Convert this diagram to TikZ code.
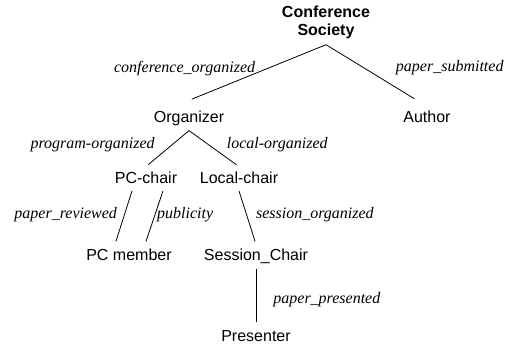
\documentclass[tikz,border=0pt]{standalone}
\usepackage{fontspec}
\setmainfont{Liberation Serif}
\setsansfont{Liberation Sans}

\begin{document}
\begin{tikzpicture}[
        x = 1pt, y = -1pt, line width = 0.8pt, shorten >= 3pt,
        every node/.style = {font = \sffamily\fontsize{16}{18.7}\selectfont},
        role/.style = {anchor = base, inner ysep = 4pt, text height = 12pt, text depth = 3.5pt},
        top role/.style = {role, text height = 18pt},
        rel/.style = {font = \rmfamily\itshape\fontsize{16}{18.7}\selectfont, inner sep = 0pt},
        rel left/.style = {rel, anchor = base east},
        rel right/.style = {rel, anchor = base west}
    ]
    \useasboundingbox (0,0) rectangle (507,349);

      \node[font = \sffamily\bfseries\fontsize{16}{18.7}\selectfont, align = center, inner sep = 5pt] (society) at (326,22.5) {Conference\\Society};
      \node[top role] (organizer) at (189,122.7) {Organizer};
      \node[top role] (author) at (427,122.7) {Author};
      \node[role] (pcchair) at (146,183) {PC-chair};
      \node[role] (localchair) at (239,183) {Local-chair};
      \node[role] (pcmember) at (129,260.7) {PC member};
      \node[role] (sessionchair) at (256,260.7) {Session\_Chair};
      \node[role] (presenter) at (256,341.7) {Presenter};

      \path[draw]
        (society.south) edge node[rel left, pos = 0.5, xshift = -2pt] {conference\_organized} (organizer.north)
        (society.south) edge node[rel right, pos = 0.49, xshift = 25pt] {paper\_submitted} ([xshift = -10pt]author.north)
        (organizer.south) edge node[rel left, pos = 0.51, xshift = -12pt] {program-organized} (pcchair.north)
        (organizer.south) edge node[rel right, pos = 0.51, xshift = 12pt] {local-organized} (localchair.north)
        ([xshift = -14pt]pcchair.south) edge node[rel left, pos = 0.51, xshift = -6pt] {paper\_reviewed} ([xshift = -14pt]pcmember.north)
        ([xshift = 17pt]pcchair.south) edge node[rel right, pos = 0.51, xshift = 3pt] {publicity} ([xshift = 16pt]pcmember.north)
        (localchair.south) edge node[rel right, pos = 0.51, xshift = 8pt] {session\_organized} (sessionchair.north)
        (sessionchair.south) edge node[rel right, pos = 0.62, xshift = 17pt] {paper\_presented} (presenter.north);
    \end{tikzpicture}
\end{document}
